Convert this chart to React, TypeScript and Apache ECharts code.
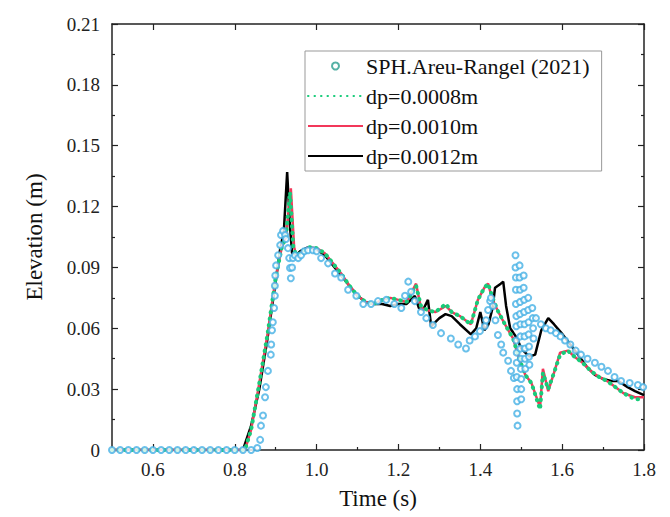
import React, { useEffect, useRef } from "react";
import * as echarts from "echarts";

const xTicks = [0.6, 0.8, 1.0, 1.2, 1.4, 1.6, 1.8];
const xMinorTicks = [0.5, 0.7, 0.9, 1.1, 1.3, 1.5, 1.7];

const sphT = [
  0.5, 0.52, 0.54, 0.56, 0.58, 0.6, 0.62, 0.64, 0.66, 0.68, 0.7, 0.72, 0.74, 0.76, 0.78, 0.8, 0.82, 0.84, 0.855,
  0.862, 0.864, 0.869, 0.874, 0.876, 0.881, 0.888, 0.889, 0.891, 0.893, 0.896, 0.898, 0.898, 0.899, 0.901, 0.906,
  0.911, 0.913, 0.918, 0.923, 0.925, 0.93, 0.933, 0.935, 0.937, 0.94, 0.942, 0.947, 0.955, 0.962, 0.97, 0.979,
  0.991, 1.0, 1.011, 1.028, 1.045, 1.06, 1.077, 1.097, 1.114, 1.133, 1.15, 1.17, 1.19, 1.207, 1.216, 1.224, 1.231,
  1.24, 1.255, 1.268, 1.284, 1.304, 1.328, 1.346, 1.365, 1.374, 1.387, 1.399, 1.411, 1.414, 1.419, 1.424, 1.426,
  1.431, 1.437, 1.443, 1.451, 1.456, 1.468, 1.475, 1.482,
  1.486, 1.486, 1.487, 1.487, 1.487, 1.488, 1.488, 1.488, 1.489, 1.489, 1.489, 1.49, 1.49, 1.49, 1.491,
  1.496, 1.496, 1.497, 1.497, 1.497, 1.498, 1.498, 1.498, 1.499, 1.499, 1.5, 1.5, 1.5,
  1.506, 1.506, 1.507, 1.507, 1.508, 1.508, 1.509, 1.509, 1.51,
  1.517, 1.517, 1.518, 1.518, 1.519, 1.519, 1.52,
  1.527, 1.528, 1.529, 1.53,
  1.536, 1.548, 1.56, 1.572, 1.585, 1.596, 1.607, 1.62, 1.633, 1.646, 1.662, 1.68, 1.696, 1.712, 1.728, 1.744,
  1.765, 1.785, 1.798,
];
const sphY = [
  0, 0, 0, 0, 0, 0, 0, 0, 0, 0, 0, 0, 0, 0, 0, 0, 0, 0, 0.001,
  0.005, 0.012, 0.017, 0.026, 0.031, 0.039, 0.047, 0.052, 0.059, 0.063, 0.07, 0.076, 0.081, 0.086, 0.091, 0.096,
  0.101, 0.106, 0.108, 0.106, 0.104, 0.0995, 0.0946, 0.0897, 0.0847, 0.09, 0.0946, 0.096, 0.0946, 0.096, 0.098, 0.0985,
  0.0985, 0.098, 0.0946, 0.092, 0.087, 0.085, 0.079, 0.076, 0.072, 0.072, 0.0734, 0.074, 0.072, 0.07, 0.076, 0.083, 0.078,
  0.0734, 0.068, 0.065, 0.0616, 0.0576, 0.055, 0.052, 0.05, 0.054, 0.056, 0.0586, 0.061, 0.064, 0.069, 0.0734, 0.075,
  0.071, 0.064, 0.0567, 0.052, 0.048, 0.044, 0.039, 0.0355,
  0.096, 0.09, 0.085, 0.079, 0.072, 0.066, 0.061, 0.054, 0.048, 0.043, 0.036, 0.03, 0.024, 0.018, 0.012,
  0.091, 0.085, 0.079, 0.073, 0.067, 0.062, 0.056, 0.05, 0.045, 0.04, 0.035, 0.03, 0.025,
  0.086, 0.08, 0.074, 0.068, 0.062, 0.056, 0.05, 0.045, 0.04,
  0.075, 0.069, 0.063, 0.057, 0.051, 0.046, 0.042,
  0.07, 0.065, 0.06, 0.055,
  0.065, 0.062, 0.06, 0.059, 0.0576, 0.056, 0.054, 0.052, 0.049, 0.047, 0.045, 0.043, 0.041, 0.039, 0.036, 0.034,
  0.033, 0.032, 0.031,
];

const d08T = [
  0.5, 0.825, 0.84, 0.86, 0.88, 0.9, 0.915, 0.925, 0.935, 0.943, 0.95, 0.96, 0.98, 1.0, 1.02, 1.04, 1.06, 1.08, 1.1,
  1.12, 1.14, 1.16, 1.18, 1.2, 1.22, 1.243, 1.255, 1.27, 1.29, 1.316, 1.33, 1.35, 1.377, 1.394, 1.41, 1.419, 1.43,
  1.443, 1.46, 1.48, 1.495, 1.51, 1.525, 1.546, 1.553, 1.566, 1.58, 1.595, 1.614, 1.63, 1.65, 1.67, 1.69, 1.71, 1.73,
  1.75, 1.778, 1.8,
];
const d08Y = [
  0, 0, 0.01, 0.033, 0.057, 0.085, 0.1, 0.105, 0.127, 0.1, 0.096, 0.097, 0.1, 0.0995, 0.097, 0.092, 0.087, 0.081, 0.076,
  0.073, 0.072, 0.074, 0.075, 0.074, 0.073, 0.081, 0.071, 0.069, 0.068, 0.072, 0.068, 0.066, 0.062, 0.074, 0.08, 0.082, 0.075,
  0.0685, 0.062, 0.055, 0.045, 0.037, 0.033, 0.02, 0.038, 0.03, 0.038, 0.047, 0.049, 0.046, 0.043, 0.039, 0.036, 0.034, 0.031,
  0.028, 0.025, 0.025,
];

const d10T = [
  0.5, 0.825, 0.84, 0.86, 0.88, 0.9, 0.915, 0.925, 0.937, 0.945, 0.95, 0.96, 0.98, 1.0, 1.02, 1.04, 1.06, 1.08, 1.1,
  1.12, 1.14, 1.16, 1.18, 1.2, 1.22, 1.243, 1.255, 1.27, 1.29, 1.316, 1.33, 1.35, 1.377, 1.394, 1.41, 1.419, 1.43,
  1.443, 1.46, 1.48, 1.495, 1.51, 1.525, 1.546, 1.553, 1.566, 1.58, 1.595, 1.614, 1.63, 1.65, 1.67, 1.69, 1.71, 1.73,
  1.75, 1.778, 1.8,
];
const d10Y = [
  0, 0, 0.01, 0.033, 0.057, 0.085, 0.1, 0.105, 0.129, 0.1, 0.096, 0.097, 0.1, 0.0995, 0.097, 0.092, 0.087, 0.081, 0.076,
  0.073, 0.072, 0.074, 0.075, 0.074, 0.073, 0.082, 0.07, 0.069, 0.068, 0.071, 0.068, 0.066, 0.062, 0.074, 0.08, 0.082, 0.074,
  0.0685, 0.062, 0.055, 0.045, 0.037, 0.033, 0.021, 0.04, 0.029, 0.038, 0.048, 0.049, 0.046, 0.043, 0.039, 0.036, 0.034, 0.031,
  0.028, 0.026, 0.026,
];

const d12T = [
  0.5, 0.82, 0.84, 0.86, 0.88, 0.9, 0.91, 0.92, 0.928, 0.935, 0.94, 0.95, 0.96, 0.98, 1.0, 1.02, 1.04, 1.06, 1.08, 1.1,
  1.12, 1.14, 1.16, 1.18, 1.2, 1.22, 1.24, 1.25, 1.26, 1.272, 1.28, 1.29, 1.3, 1.315, 1.33, 1.35, 1.377, 1.39, 1.4,
  1.41, 1.42, 1.43, 1.436, 1.45, 1.456, 1.463, 1.473, 1.48, 1.49, 1.5, 1.51, 1.52, 1.534, 1.549, 1.566, 1.58, 1.597,
  1.62, 1.639, 1.66, 1.68, 1.7, 1.72, 1.737, 1.76, 1.778, 1.8,
];
const d12Y = [
  0, 0, 0.012, 0.03, 0.055, 0.083, 0.098, 0.108, 0.137, 0.11, 0.097, 0.096, 0.098, 0.1, 0.099, 0.096, 0.091, 0.086, 0.081, 0.076,
  0.073, 0.072, 0.072, 0.071, 0.072, 0.072, 0.076, 0.07, 0.069, 0.074, 0.061, 0.063, 0.065, 0.067, 0.066, 0.062, 0.057, 0.06, 0.068,
  0.059, 0.062, 0.07, 0.08, 0.082, 0.083, 0.071, 0.06, 0.058, 0.055, 0.05, 0.048, 0.046, 0.047, 0.059, 0.065, 0.062, 0.058,
  0.052, 0.047, 0.041, 0.037, 0.035, 0.034, 0.034, 0.031, 0.029, 0.027,
];

const names = ["SPH.Areu-Rangel (2021)", "dp=0.0008m", "dp=0.0010m", "dp=0.0012m"];

const zip = (t: number[], y: number[]) => t.map((v, i) => [v, y[i]]);

const FONT = "Times New Roman, Liberation Serif, DejaVu Serif, serif";

export default function App() {
  const ref = useRef<HTMLDivElement>(null);
  useEffect(() => {
    if (!ref.current) return;
    const chart = echarts.init(ref.current, undefined, { renderer: "svg" });
    const axisLine = { show: true, lineStyle: { color: "#222", width: 1.5 } };
    const tickStyle = { color: "#222", width: 1.2 };
    const yFmt = (v: number) => (v === 0 ? "0" : v.toFixed(2));
    chart.setOption({
      animation: false,
      backgroundColor: "#fff",
      textStyle: { fontFamily: FONT },
      grid: { left: 104, right: 34, top: 16, bottom: 75, containLabel: false },
      legend: {
        left: 297,
        top: 43,
        orient: "vertical",
        itemWidth: 55,
        itemHeight: 7,
        itemGap: 8,
        padding: [4, 12, 4, 2],
        borderColor: "#999",
        borderWidth: 1,
        backgroundColor: "#fff",
        textStyle: { fontFamily: FONT, fontSize: 22, color: "#111", padding: [0, 0, 0, -2] },
        data: [
          { name: names[0], itemStyle: { color: "#2a9d8f", borderColor: "#2a9d8f", borderWidth: 1.5 } },
          { name: names[1], itemStyle: { opacity: 0 } },
          { name: names[2], itemStyle: { opacity: 0 } },
          { name: names[3], itemStyle: { opacity: 0 } },
        ],
      },
      xAxis: [
        {
          type: "value",
          min: 0.5,
          max: 1.8,
          position: "bottom",
          name: "Time (s)",
          nameLocation: "middle",
          nameGap: 37,
          nameTextStyle: { fontFamily: FONT, fontSize: 23, color: "#111" },
          axisLine,
          axisTick: { show: true, inside: true, length: 6, customValues: xTicks, lineStyle: tickStyle },
          axisLabel: {
            show: true,
            customValues: xTicks,
            margin: 10,
            fontFamily: FONT,
            fontSize: 19,
            color: "#222",
            formatter: (v: number) => v.toFixed(1),
          },
          splitLine: { show: false },
        },
        {
          type: "value",
          min: 0.5,
          max: 1.8,
          position: "bottom",
          axisLine: { show: false },
          axisTick: { show: true, inside: true, length: 3, customValues: xMinorTicks, lineStyle: tickStyle },
          axisLabel: { show: false },
          splitLine: { show: false },
        },
        {
          type: "value",
          min: 0.5,
          max: 1.8,
          position: "top",
          axisLine,
          axisTick: { show: true, inside: true, length: 6, customValues: xTicks, lineStyle: tickStyle },
          axisLabel: { show: false },
          splitLine: { show: false },
        },
      ],
      yAxis: [
        {
          type: "value",
          min: 0,
          max: 0.21,
          interval: 0.03,
          position: "left",
          name: "Elevation (m)",
          nameLocation: "middle",
          nameGap: 66,
          nameTextStyle: { fontFamily: FONT, fontSize: 23, color: "#111" },
          axisLine,
          axisTick: { show: true, inside: true, length: 6, lineStyle: tickStyle },
          minorTick: { show: true, splitNumber: 2, length: 3, lineStyle: tickStyle },
          axisLabel: { margin: 12, fontFamily: FONT, fontSize: 19, color: "#222", formatter: yFmt },
          splitLine: { show: false },
        },
        {
          type: "value",
          min: 0,
          max: 0.21,
          interval: 0.03,
          position: "right",
          axisLine,
          axisTick: { show: true, inside: true, length: 6, lineStyle: tickStyle },
          minorTick: { show: true, splitNumber: 2, length: 3, lineStyle: tickStyle },
          axisLabel: { show: false },
          splitLine: { show: false },
        },
      ],
      series: [
        {
          name: names[3],
          type: "line",
          data: zip(d12T, d12Y),
          symbol: "none",
          z: 2,
          lineStyle: { color: "#000", width: 2.5 },
          itemStyle: { color: "#000" },
        },
        {
          name: names[2],
          type: "line",
          data: zip(d10T, d10Y),
          symbol: "none",
          z: 3,
          lineStyle: { color: "#f2385a", width: 2.5 },
          itemStyle: { color: "#f2385a" },
        },
        {
          name: names[1],
          type: "line",
          data: zip(d08T, d08Y),
          symbol: "none",
          z: 4,
          lineStyle: { color: "#17cc7a", width: 4, type: [0.5, 6], cap: "round" },
          itemStyle: { color: "#17cc7a" },
        },
        {
          name: names[0],
          type: "scatter",
          data: zip(sphT, sphY),
          symbol: "emptyCircle",
          symbolSize: 6,
          z: 5,
          itemStyle: { color: "#45b0e5", borderColor: "#45b0e5", borderWidth: 1.6 },
        },
      ],
    });
    return () => chart.dispose();
  }, []);
  return <div ref={ref} style={{ width: 670, height: 517 }} />;
}
